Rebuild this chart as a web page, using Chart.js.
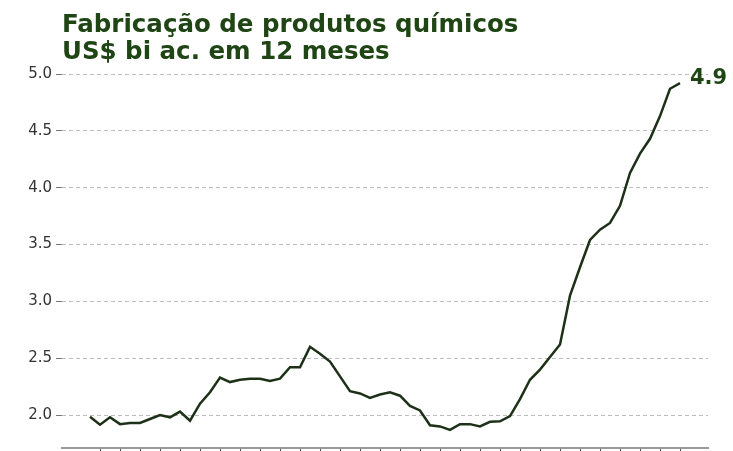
<!DOCTYPE html>
<html>
<head>
<meta charset="utf-8">
<script src="https://cdn.jsdelivr.net/npm/chart.js@4"></script>
<style>
    html, body { margin: 0; padding: 0; background: #fff; overflow: hidden; }
    #wrap { width: 733px; height: 451px; }
</style>
</head>
<body>
<div id="wrap"><canvas id="chart" width="733" height="451"></canvas></div>
<script>
// Fabricação de produtos químicos - US$ bi acumulado em 12 meses
const titleLines = ['Fabricação de produtos químicos', 'US$ bi ac. em 12 meses'];
const periods = Array.from({ length: 60 }, (_, i) => i);   // 60 consecutive months
const values = [
    1.985, 1.915, 1.98, 1.92, 1.93, 1.93, 1.965, 2.00, 1.98, 2.03,
    1.95, 2.10, 2.20, 2.33, 2.29, 2.31, 2.32, 2.32, 2.30, 2.32,
    2.42, 2.42, 2.60, 2.54, 2.47, 2.34, 2.21, 2.19, 2.15, 2.18,
    2.20, 2.17, 2.08, 2.04, 1.91, 1.90, 1.87, 1.92, 1.92, 1.90,
    1.94, 1.945, 1.99, 2.14, 2.31, 2.40, 2.51, 2.62, 3.05, 3.30,
    3.54, 3.63, 3.69, 3.84, 4.13, 4.30, 4.43, 4.63, 4.87, 4.92
];
const yTicks = [2.0, 2.5, 3.0, 3.5, 4.0, 4.5, 5.0];
const lastLabel = '4.9';

const green = '#1f4514';

// title + end label
const textPlugin = {
    id: 'texts',
    afterDraw(chart) {
        const c = chart.ctx;
        c.save();
        c.fillStyle = green;
        c.font = 'bold 24.5px "DejaVu Sans"';
        c.textBaseline = 'alphabetic';
        c.textAlign = 'left';
        c.fillText(titleLines[0], 62, 32);
        c.fillText(titleLines[1], 62, 59);

        const meta = chart.getDatasetMeta(0);
        const last = meta.data[meta.data.length - 1];
        c.font = 'bold 21px "DejaVu Sans"';
        c.fillText(lastLabel, last.x + 10, last.y + 1);
        c.restore();
    }
};

const ctx = document.getElementById('chart').getContext('2d');

new Chart(ctx, {
    type: 'line',
    data: {
        datasets: [{
            data: periods.map((p, i) => ({ x: p, y: values[i] })),
            borderColor: '#1d3018',
            borderWidth: 2.5,
            pointRadius: 0,
            tension: 0,
            fill: false
        }]
    },
    options: {
        responsive: false,
        animation: false,
        layout: { padding: { top: 74, right: 25, bottom: 0, left: 0 } },
        plugins: {
            legend: { display: false },
            tooltip: { enabled: false }
        },
        scales: {
            x: {
                type: 'linear',
                min: -2.8,
                max: 61.8,
                afterBuildTicks: scale => {
                    scale.ticks = periods.filter(p => p % 2 === 1).map(p => ({ value: p }));
                },
                afterFit: scale => {
                    scale.height = 3;
                    scale.paddingLeft = 0;
                    scale.paddingRight = 0;
                },
                grid: {
                    drawOnChartArea: false,
                    drawTicks: true,
                    tickLength: 3,
                    tickColor: '#555',
                    tickWidth: 1
                },
                border: { display: true, color: '#9a9a9a', width: 2 },
                ticks: { display: false }
            },
            y: {
                min: 1.71,
                max: 5.0,
                afterBuildTicks: scale => {
                    scale.ticks = yTicks.map(v => ({ value: v }));
                },
                afterFit: scale => {
                    scale.width = 62;
                    scale.paddingTop = 0;
                    scale.paddingBottom = 0;
                },
                grid: {
                    color: '#bdbdbd',
                    lineWidth: 1,
                    tickLength: 6,
                    tickColor: '#777',
                    tickBorderDash: [],
                },
                border: { display: false, dash: [4, 3] },
                ticks: {
                    padding: 4,
                    color: '#333',
                    font: { family: 'DejaVu Sans', size: 15 },
                    callback: v => v.toFixed(1)
                }
            }
        }
    },
    plugins: [textPlugin]
});
</script>
</body>
</html>
